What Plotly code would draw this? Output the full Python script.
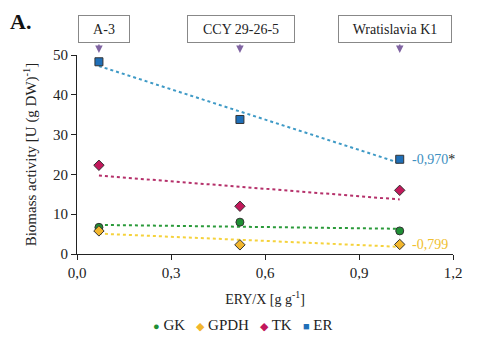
import numpy as np
import plotly.graph_objects as go

strains = ["A-3", "CCY 29-26-5", "Wratislavia K1"]
ery_x = [0.07, 0.52, 1.03]
gk = [6.7, 8.0, 5.8]
gpdh = [5.8, 2.3, 2.4]
tk = [22.3, 12.0, 16.0]
er = [48.3, 33.8, 23.8]
xtick_vals = [0.0, 0.3, 0.6, 0.9, 1.2]
xtick_text = ["0,0", "0,3", "0,6", "0,9", "1,2"]
ytick_vals = [0, 10, 20, 30, 40, 50]

SERIF = "Liberation Serif"

series = [
    ("GK", gk, "circle", "#1f8f35", 8, "#2a9a3a", "●"),
    ("GPDH", gpdh, "diamond", "#f2b62d", 8, "#f5d23c", "◆"),
    ("TK", tk, "diamond", "#c2185b", 8, "#b5306a", "◆"),
    ("ER", er, "square", "#1f6fb8", 8, "#3f9ac6", "■"),
]

fig = go.Figure()
x = np.array(ery_x)
xs = np.array([x.min(), x.max()])
for name, ys, sym, col, sz, tcol, ch in series:
    slope, icpt = np.polyfit(x, np.array(ys), 1)
    fig.add_trace(go.Scatter(x=xs, y=slope * xs + icpt, mode="lines",
                             line=dict(color=tcol, width=2, dash="dot"),
                             showlegend=False, hoverinfo="skip"))
for name, ys, sym, col, sz, tcol, ch in series:
    fig.add_trace(go.Scatter(x=ery_x, y=ys, mode="markers", name=name,
                             showlegend=False,
                             marker=dict(symbol=sym, color=col, size=sz,
                                         line=dict(color="#333333", width=1))))

ann = []
box_w = [40, 96, 102]
box_shift = [5, 1, -5]
for s, xv, w, sh in zip(strains, ery_x, box_w, box_shift):
    ann.append(dict(x=xv, xref="x", y=1.13, yref="paper", text=s, showarrow=False,
                    font=dict(family=SERIF, size=14, color="#222"),
                    width=w, height=16, xshift=sh,
                    bordercolor="#888", borderwidth=1, borderpad=5,
                    bgcolor="white", yanchor="middle"))
    ann.append(dict(x=xv, xref="x", y=1.01, yref="paper", text="", showarrow=True,
                    ax=0, ay=-10, arrowhead=2, arrowsize=1, arrowwidth=1.5,
                    arrowcolor="#8064a2"))
ann.append(dict(x=ery_x[2], xref="x", y=er[2], yref="y", xanchor="left", xshift=10,
                text="-0,970<span style='color:#222'>*</span>",
                showarrow=False, font=dict(family=SERIF, size=14, color="#3d8fbf")))
ann.append(dict(x=ery_x[2], xref="x", y=gpdh[2], yref="y", xanchor="left", xshift=10,
                text="-0,799", showarrow=False,
                font=dict(family=SERIF, size=14, color="#f0c030")))
ann.append(dict(x=-0.15, xref="paper", y=1.17, yref="paper", text="<b>A.</b>",
                showarrow=False, xanchor="center", yanchor="middle",
                font=dict(family=SERIF, size=22, color="#111")))
legend_txt = "&nbsp;&nbsp;&nbsp;".join(
    f"<span style='color:{col};font-size:11px'>{ch}</span> {name}"
    for name, ys, sym, col, sz, tcol, ch in series)
ann.append(dict(x=0.44, xref="paper", y=-0.355, yref="paper", text=legend_txt,
                showarrow=False, xanchor="center", yanchor="middle",
                font=dict(family=SERIF, size=15, color="#222")))

axis_common = dict(showgrid=False, zeroline=False, showline=True, linecolor="#222",
                   linewidth=1, ticks="outside", ticklen=5, tickcolor="#222",
                   tickfont=dict(family=SERIF, size=15, color="#222"))

fig.update_layout(
    width=480, height=357,
    margin=dict(l=69, r=35, t=47, b=111, autoexpand=False),
    paper_bgcolor="white", plot_bgcolor="white",
    font=dict(family=SERIF, size=14, color="#222"),
    showlegend=False,
    annotations=ann,
    xaxis=dict(range=[0, 1.2], tickvals=xtick_vals, ticktext=xtick_text,
               title=dict(text="ERY/X [g g<sup>-1</sup>]", standoff=14,
                          font=dict(family=SERIF, size=14)), **axis_common),
    yaxis=dict(range=[0, 50], tickvals=ytick_vals,
               title=dict(text="Biomass activity [U (g DW)<sup>-1</sup>]", standoff=12,
                          font=dict(family=SERIF, size=15)), **axis_common),
)

fig.write_html("out.html")
